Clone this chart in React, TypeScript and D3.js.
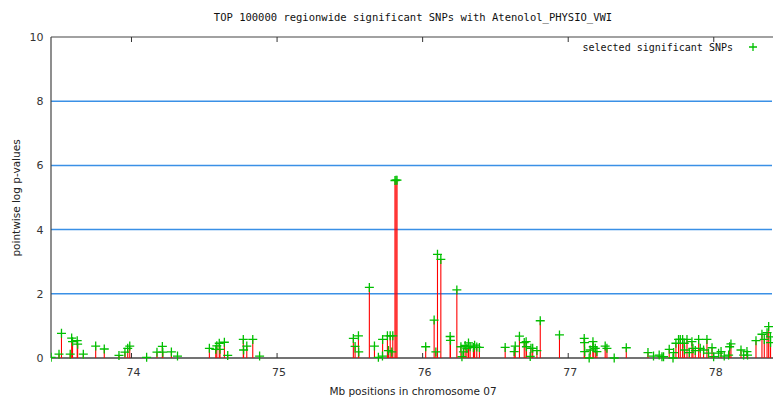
import * as d3 from "d3";

const TITLE = "TOP 100000 regionwide significant SNPs with Atenolol_PHYSIO_VWI";
const X_LABEL = "Mb positions in chromosome 07";
const Y_LABEL = "pointwise log p-values";
const LEGEND = "selected significant SNPs";

const xTicks = [74, 75, 76, 77, 78];
const yTicks = [0, 2, 4, 6, 8, 10];
const gridValues = [2, 4, 6, 8];

// SNP positions (Mb) and -log10 p-values
const snpPos = [
  73.448, 73.502, 73.519, 73.579, 73.589, 73.595, 73.627, 73.63, 73.669, 73.754,
  73.813, 73.914, 73.955, 73.974, 73.988, 74.104, 74.175, 74.212, 74.215, 74.274,
  74.316, 74.535, 74.579, 74.586, 74.603, 74.608, 74.638, 74.661, 74.768, 74.77,
  74.792, 74.833, 74.88,
  75.524, 75.536, 75.559, 75.561, 75.634, 75.669, 75.696, 75.724, 75.725, 75.758,
  75.765, 75.777, 75.788, 75.795, 75.81, 75.817, 75.824,
  76.021, 76.079, 76.091, 76.102, 76.125, 76.189, 76.191, 76.235, 76.263, 76.27,
  76.28, 76.292, 76.304, 76.315, 76.326, 76.349, 76.357, 76.372, 76.39, 76.567,
  76.629, 76.636, 76.665, 76.698, 76.711, 76.713, 76.739, 76.744, 76.756, 76.785,
  76.808, 76.94,
  77.11, 77.112, 77.113, 77.144, 77.151, 77.17, 77.172, 77.186, 77.197, 77.254,
  77.266, 77.316, 77.399, 77.548, 77.586, 77.625, 77.644, 77.655, 77.694, 77.72,
  77.724, 77.74, 77.758, 77.77, 77.786, 77.797, 77.799, 77.816, 77.832, 77.85,
  77.857, 77.873, 77.896, 77.907, 77.93, 77.953, 77.964, 77.988, 77.999,
  78.033, 78.05, 78.072, 78.102, 78.109, 78.118, 78.187, 78.205, 78.228, 78.232,
  78.29, 78.331, 78.347, 78.366, 78.377, 78.389, 78.39,
];

const snpLogP = [
  0.02, 0.12, 0.77, 0.12, 0.62, 0.51, 0.54, 0.43, 0.12, 0.37,
  0.28, 0.08, 0.18, 0.3, 0.37, 0.02, 0.18, 0.36, 0.18, 0.19,
  0.06, 0.3, 0.27, 0.38, 0.46, 0.27, 0.49, 0.08, 0.58, 0.25,
  0.37, 0.58, 0.06,
  0.61, 0.36, 0.69, 0.19, 2.2, 0.37, 0.02, 0.06, 0.58, 0.69,
  0.23, 0.69, 0.19, 0.69, 5.53, 5.54, 5.54,
  0.35, 1.18, 0.19, 3.23, 3.07, 0.67, 0.55, 2.12, 0.35, 0.04,
  0.19, 0.39, 0.3, 0.47, 0.35, 0.33, 0.4, 0.34, 0.33, 0.33,
  0.2, 0.37, 0.68, 0.48, 0.51, 0.35, 0.05, 0.3, 0.3, 0.23,
  1.16, 0.72,
  0.61, 0.48, 0.2, 0.0, 0.25, 0.51, 0.35, 0.3, 0.2, 0.37,
  0.3, 0.0, 0.32, 0.17, 0.06, 0.09, 0.04, 0.04, 0.27, 0.0,
  0.17, 0.46, 0.58, 0.58, 0.58, 0.46, 0.25, 0.58, 0.17, 0.51,
  0.3, 0.23, 0.58, 0.3, 0.25, 0.58, 0.15, 0.32, 0.04,
  0.15, 0.2, 0.06, 0.09, 0.35, 0.44, 0.25, 0.09, 0.2, 0.09,
  0.54, 0.74, 0.58, 0.79, 0.98, 0.66, 0.48,
];

const W = 773;
const H = 397;
const margin = { left: 51, right: 1, top: 37, bottom: 39 };
const mono = "'DejaVu Sans Mono', monospace";
const sans = "'DejaVu Sans', sans-serif";

export default function App() {
  const x = d3
    .scaleLinear()
    .domain([73.447, 78.4])
    .range([margin.left, W - margin.right]);
  const y = d3
    .scaleLinear()
    .domain([0, 10])
    .range([H - margin.bottom, margin.top]);

  const x0 = margin.left;
  const x1 = W - margin.right;
  const y0 = y(0);
  const y1 = y(10);
  const cross = 4.5;

  return (
    <svg
      width={W}
      height={H}
      style={{ position: "absolute", left: 0, top: 0, background: "#fff" }}
    >
      <defs>
        <clipPath id="plot">
          <rect x={x0} y={y1} width={x1 - x0 + 2} height={y0 - y1 + 6} />
        </clipPath>
      </defs>

      <text x={413} y={21} fontFamily={mono} fontSize={10.5} textAnchor="middle" fill="#111">
        {TITLE}
      </text>

      {gridValues.map((v) => (
        <line key={v} x1={x0} x2={x1} y1={y(v)} y2={y(v)} stroke="#3a90e6" strokeWidth={1.5} />
      ))}

      {/* frame */}
      <line x1={x0} x2={x0} y1={y1} y2={y0} stroke="#444" strokeWidth={1.2} />
      <line x1={x0} x2={W} y1={y1} y2={y1} stroke="#444" strokeWidth={1.2} />
      <line x1={x0} x2={W} y1={y0} y2={y0} stroke="#444" strokeWidth={1.5} />

      {xTicks.map((t) => (
        <g key={t}>
          <line x1={x(t)} x2={x(t)} y1={y0} y2={y0 - 5} stroke="#333" />
          <line x1={x(t)} x2={x(t)} y1={y1} y2={y1 + 5} stroke="#333" />
          <text x={x(t) + 2} y={376} fontFamily={sans} fontSize={11} textAnchor="middle" fill="#333">
            {t}
          </text>
        </g>
      ))}

      {yTicks.map((t) => (
        <text key={t} x={43.5} y={y(t) + 4} fontFamily={sans} fontSize={11} textAnchor="end" fill="#333">
          {t}
        </text>
      ))}

      <text x={413} y={395} fontFamily={sans} fontSize={10.5} textAnchor="middle" fill="#222">
        {X_LABEL}
      </text>
      <text
        transform={`translate(20, ${198}) rotate(-90)`}
        fontFamily={sans}
        fontSize={10.5}
        textAnchor="middle"
        fill="#222"
      >
        {Y_LABEL}
      </text>

      <g clipPath="url(#plot)">
        {snpPos.map((p, i) => (
          <line
            key={`l${i}`}
            x1={x(p)}
            x2={x(p)}
            y1={y0}
            y2={y(snpLogP[i])}
            stroke="#ff0000"
            strokeWidth={1.1}
          />
        ))}
        {snpPos.map((p, i) => {
          const cx = x(p);
          const cy = y(snpLogP[i]);
          return (
            <path
              key={`p${i}`}
              d={`M${cx - cross},${cy}H${cx + cross}M${cx},${cy - cross}V${cy + cross}`}
              stroke="#00c000"
              strokeWidth={1.3}
              fill="none"
            />
          );
        })}
      </g>

      <text x={733} y={51} fontFamily={mono} fontSize={10} textAnchor="end" fill="#111">
        {LEGEND}
      </text>
      <path d={`M${753 - 4},47H${753 + 4}M753,${47 - 4}V${47 + 4}`} stroke="#00c000" strokeWidth={1.3} />
    </svg>
  );
}
